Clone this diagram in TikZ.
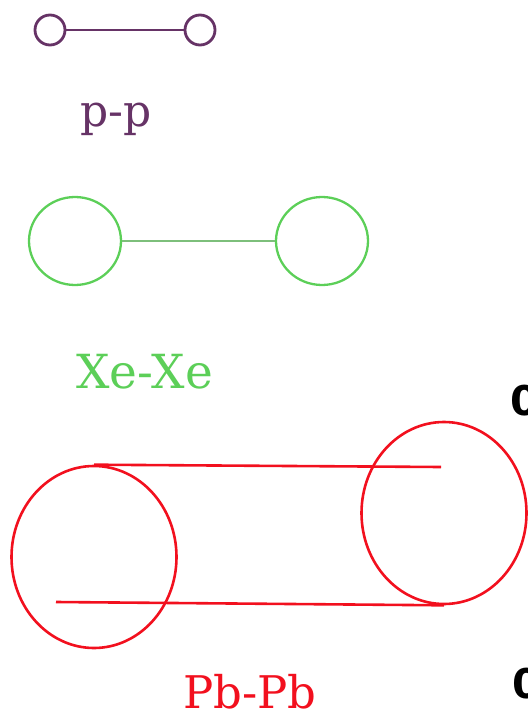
\documentclass[tikz,border=0pt]{standalone}
\usepackage{fontspec}
\setmainfont{DejaVu Serif}
\newfontfamily\axisfont{DejaVu Sans}
\usetikzlibrary{shapes.geometric}
\definecolor{ppcol}{HTML}{663366}
\definecolor{xecol}{HTML}{5CCF58}
\definecolor{xeline}{HTML}{7DBF7B}
\definecolor{pbcol}{HTML}{F2101E}
\tikzset{
  ppatom/.style={circle,draw=ppcol,line width=2.8pt,minimum size=30pt,inner sep=0pt},
  xeatom/.style={ellipse,draw=xecol,line width=2.3pt,minimum width=92pt,minimum height=88pt,inner sep=0pt},
  pbatom/.style={ellipse,draw=pbcol,line width=2.6pt,minimum width=165pt,minimum height=182pt,inner sep=0pt},
  lbl/.style={anchor=base,inner sep=0pt},
  axlbl/.style={anchor=base west,inner sep=0pt,font=\axisfont\bfseries\fontsize{41}{48}\selectfont}
}
\begin{document}
\begin{tikzpicture}[x=1pt,y=-1pt]
\useasboundingbox (0,0) rectangle (527,711);
% p-p
\node[ppatom] (p1) at (50,30) {};
\node[ppatom] (p2) at (200,30) {};
\draw[ppcol,line width=2.6pt] (p1.east) -- (p2.west);
\node[lbl,text=ppcol,font=\fontsize{44}{52}\selectfont] (ppl) at (116,127) {p-p};
% Xe-Xe
\node[xeatom] (x1) at (75,241) {};
\node[xeatom] (x2) at (322,241) {};
\draw[xeline,line width=1.2pt] (x1.east) -- (x2.west);
\node[lbl,text=xecol,font=\fontsize{47}{56}\selectfont] (xel) at (144.5,388) {Xe-Xe};
% Pb-Pb
\node[pbatom] (b1) at (94,557) {};
\node[pbatom] (b2) at (444,513) {};
\coordinate (t1) at (441,467);
\coordinate (s1) at (56,602);
\draw[pbcol,line width=2.6pt] (b1.north) -- (t1);
\draw[pbcol,line width=2.6pt] (s1) -- (b2.south);
\node[lbl,text=pbcol,font=\fontsize{45}{54}\selectfont] (pbl) at (250,708) {Pb-Pb};
% cut-off axis labels at right edge
\node[axlbl] (a1) at (510.5,415) {0};
\node[axlbl] (a2) at (512.5,698) {0};
\end{tikzpicture}
\end{document}
